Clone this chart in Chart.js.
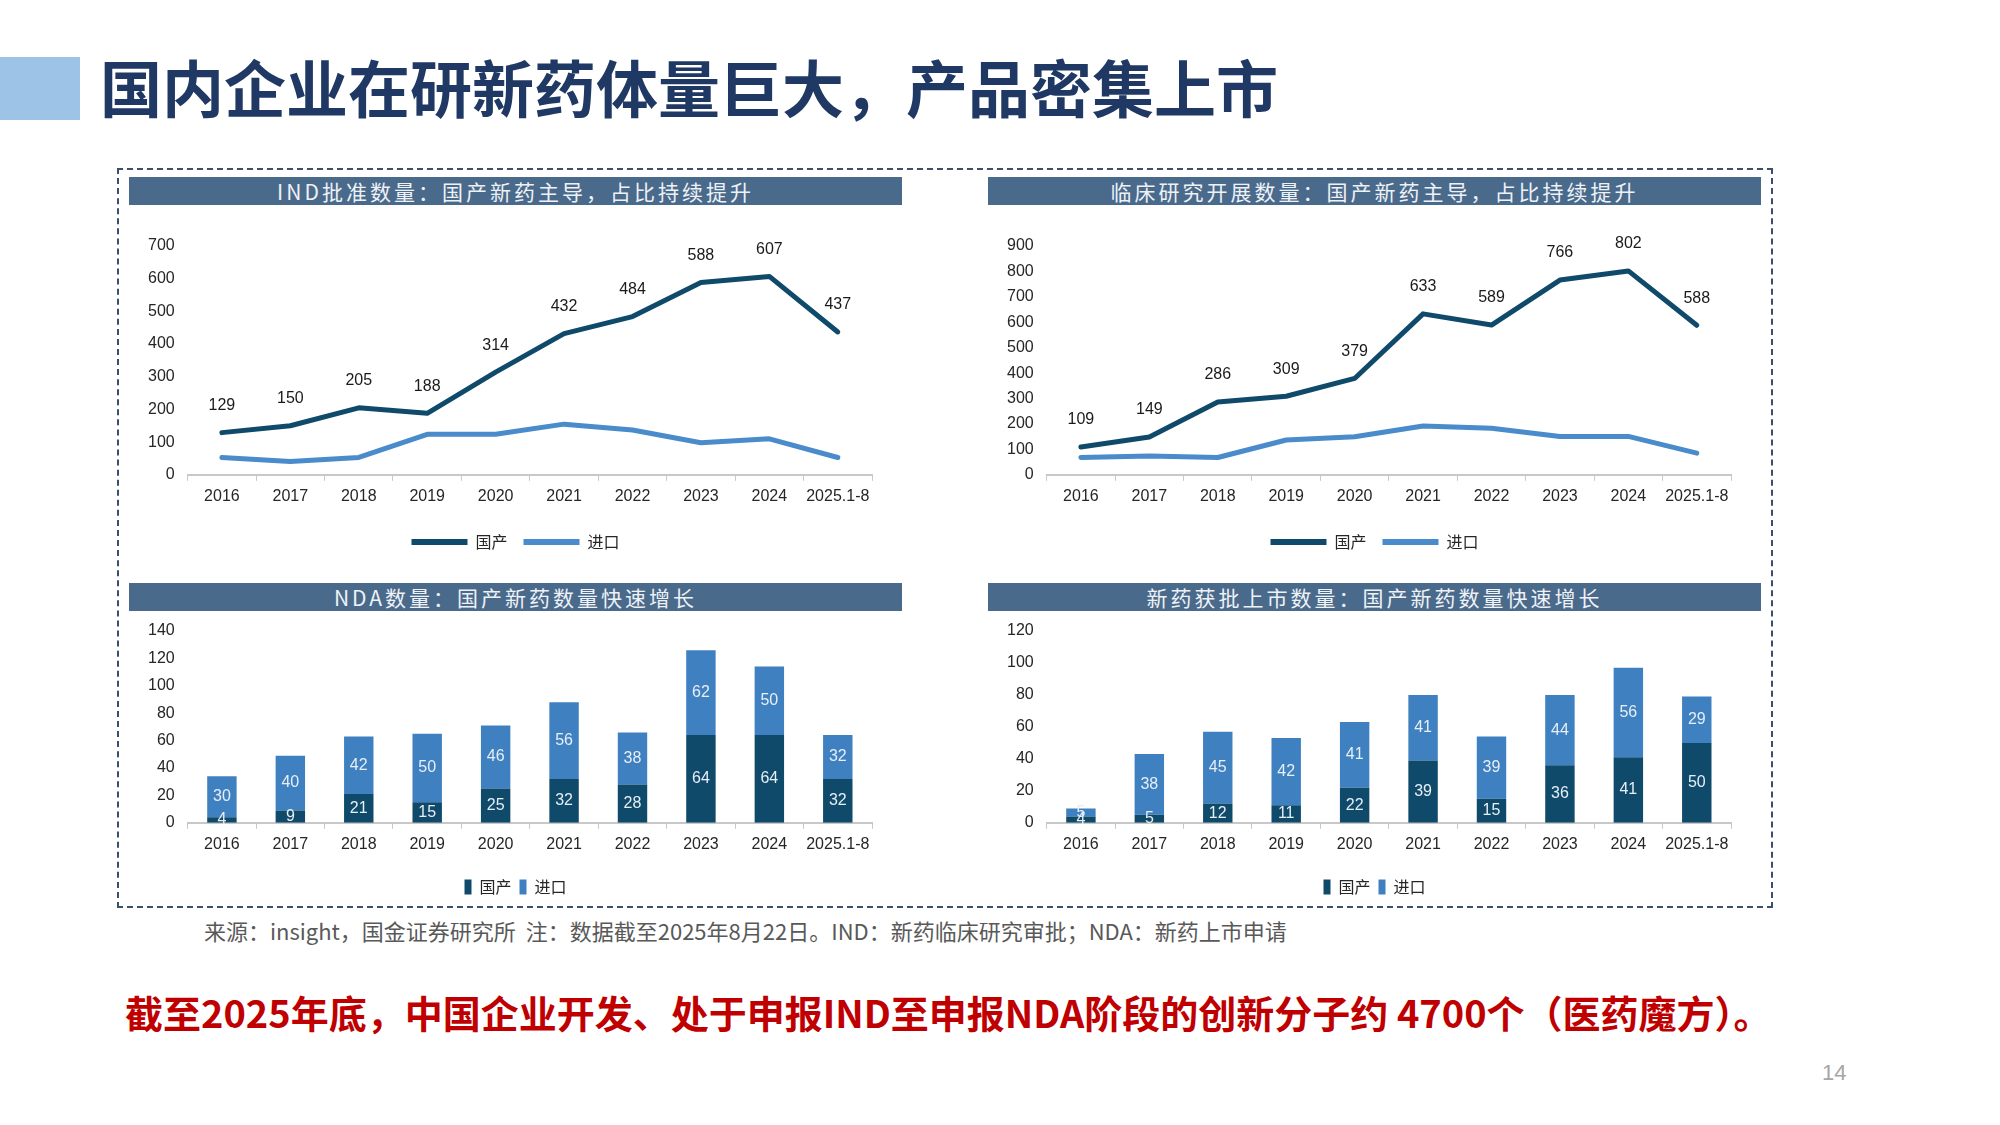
<!DOCTYPE html>
<html>
<head>
<meta charset="utf-8">
<script src="https://cdn.jsdelivr.net/npm/chart.js@4.4.1/dist/chart.umd.min.js"></script>
<style>
  body { margin: 0; width: 2000px; height: 1125px; background: #fff; position: relative; overflow: hidden;
         font-family: "Noto Sans CJK SC", sans-serif; }
  .abs { position: absolute; }
  #mark { left: 0; top: 57px; width: 80px; height: 63px; background: #9dc3e6; }
  #title { left: 100px; top: 46px; font-size: 62px; font-weight: bold; color: #1f3864; line-height: 80px; white-space: nowrap; }
  #frame { left: 117px; top: 168px; width: 1652px; height: 736px; border: 2px dashed #3b4e6b; }
  .head { height: 28px; background: #4a6a8c; color: #eef2f6; font-size: 21px; letter-spacing: 3px;
          text-align: center; line-height: 28px; width: 773px; white-space: nowrap; }
  .box { position: absolute; width: 773px; }
  #source { left: 204px; top: 914px; font-size: 22px; color: #595959; white-space: nowrap; }
  #note { left: 125px; top: 984px; font-size: 38px; font-weight: bold; color: #c00000; white-space: nowrap; }
  #page { left: 1822px; top: 1060px; font-size: 22px; color: #a6a6a6; font-family: "Liberation Sans", sans-serif; }
</style>
</head>
<body>
<div class="abs" id="mark"></div>
<div class="abs" id="title">国内企业在研新药体量巨大，产品密集上市</div>
<div class="abs" id="frame"></div>

<div class="abs head" style="left:129px;top:177px;">IND批准数量：国产新药主导，占比持续提升</div>
<div class="abs head" style="left:988px;top:177px;">临床研究开展数量：国产新药主导，占比持续提升</div>
<div class="abs head" style="left:129px;top:583px;">NDA数量：国产新药数量快速增长</div>
<div class="abs head" style="left:988px;top:583px;">新药获批上市数量：国产新药数量快速增长</div>

<div class="box" style="left:129px;top:215px;height:355px;"><canvas id="indChart"></canvas></div>
<div class="box" style="left:988px;top:215px;height:355px;"><canvas id="trialChart"></canvas></div>
<div class="box" style="left:129px;top:610px;height:301px;"><canvas id="ndaChart"></canvas></div>
<div class="box" style="left:988px;top:610px;height:301px;"><canvas id="approvalChart"></canvas></div>

<div class="abs" id="source">来源：insight，国金证券研究所&nbsp;&nbsp;注：数据截至2025年8月22日。IND：新药临床研究审批；NDA：新药上市申请</div>
<div class="abs" id="note">截至2025年底，中国企业开发、处于申报IND至申报NDA阶段的创新分子约 4700个（医药魔方）。</div>
<div class="abs" id="page">14</div>

<script>
const years = ['2016', '2017', '2018', '2019', '2020', '2021', '2022', '2023', '2024', '2025.1-8'];
const seriesNames = ['国产', '进口'];

const indDomestic = [129, 150, 205, 188, 314, 432, 484, 588, 607, 437];
const indImport = [53, 41, 53, 124, 124, 155, 137, 98, 110, 53];

const trialDomestic = [109, 149, 286, 309, 379, 633, 589, 766, 802, 588];
const trialImport = [68, 74, 68, 137, 150, 192, 183, 151, 151, 85];

const ndaDomestic = [4, 9, 21, 15, 25, 32, 28, 64, 64, 32];
const ndaImport = [30, 40, 42, 50, 46, 56, 38, 62, 50, 32];

const approvalDomestic = [4, 5, 12, 11, 22, 39, 15, 36, 41, 50];
const approvalImport = [5, 38, 45, 42, 41, 41, 39, 44, 56, 29];

const darkBlue = '#0f4a6b';
const lineBlue = '#4a8bcb';
const barBlue = '#3f80c0';
const numFont = '"Liberation Sans", Arial, sans-serif';
const cjkFont = '"Noto Sans CJK SC", sans-serif';

Chart.defaults.font.family = numFont;
Chart.defaults.color = '#262626';

// legend boxes without outline
function flatLegend(chart) {
  const items = Chart.defaults.plugins.legend.labels.generateLabels(chart);
  items.forEach(it => { it.lineWidth = 0; });
  return items;
}

// numbers on the chart (above domestic line, inside bar segments)
const valueLabels = {
  id: 'valueLabels',
  afterDatasetsDraw(chart) {
    const ctx = chart.ctx;
    const isLine = chart.config.type === 'line';
    ctx.save();
    ctx.font = '16px ' + numFont;
    ctx.textAlign = 'center';
    ctx.textBaseline = 'middle';
    chart.data.datasets.forEach((ds, i) => {
      if (isLine && i > 0) return;
      const meta = chart.getDatasetMeta(i);
      meta.data.forEach((el, j) => {
        if (isLine) {
          ctx.fillStyle = '#1a1a1a';
          ctx.fillText(ds.data[j], el.x, el.y - 27);
        } else {
          ctx.fillStyle = '#e6eef6';
          ctx.fillText(ds.data[j], el.x, (el.y + el.base) / 2);
        }
      });
    });
    ctx.restore();
  }
};

// right padding pushes the legend left; move it back to the middle of the canvas
const centerLegend = {
  id: 'centerLegend',
  afterLayout(chart) {
    if (chart.legend) {
      chart.legend.left += 8;
      chart.legend.right += 8;
    }
  }
};

// extra: added space under the category labels, before the legend
function xAxis(extra) {
  return {
    offset: true,
    grid: { display: true, drawOnChartArea: false, offset: true, color: '#c8c8c8', tickLength: 6 },
    border: { color: '#c8c8c8', width: 2 },
    ticks: { color: '#262626', font: { size: 16 }, padding: 6, maxRotation: 0, autoSkip: false },
    afterFit(scale) { scale.height += extra; }
  };
}

function yAxis(max, step, stacked) {
  return {
    min: 0, max: max, stacked: stacked,
    grid: { display: false },
    border: { display: false },
    ticks: { stepSize: step, color: '#262626', font: { size: 16 }, padding: 5 }
  };
}

function lineChart(id, domestic, imported, max, step) {
  new Chart(document.getElementById(id), {
    type: 'line',
    data: {
      labels: years,
      datasets: [
        { label: seriesNames[0], data: domestic, borderColor: darkBlue, backgroundColor: darkBlue,
          borderWidth: 5, pointRadius: 0, tension: 0, borderJoinStyle: 'round', borderCapStyle: 'round' },
        { label: seriesNames[1], data: imported, borderColor: lineBlue, backgroundColor: lineBlue,
          borderWidth: 5, pointRadius: 0, tension: 0, borderJoinStyle: 'round', borderCapStyle: 'round' }
      ]
    },
    options: {
      responsive: true,
      maintainAspectRatio: false,
      animation: false,
      layout: { padding: { left: 14, right: 30, top: 31, bottom: 10 } },
      plugins: {
        legend: {
          position: 'bottom',
          labels: { boxWidth: 56, boxHeight: 6, padding: 16, color: '#262626',
                    font: { size: 16, family: cjkFont }, generateLabels: flatLegend }
        },
        tooltip: { enabled: false }
      },
      scales: { x: xAxis(6), y: yAxis(max, step, false) }
    },
    plugins: [valueLabels, centerLegend]
  });
}

function barChart(id, domestic, imported, max, step) {
  new Chart(document.getElementById(id), {
    type: 'bar',
    data: {
      labels: years,
      datasets: [
        { label: seriesNames[0], data: domestic, backgroundColor: darkBlue, barPercentage: 0.43, categoryPercentage: 1 },
        { label: seriesNames[1], data: imported, backgroundColor: barBlue, barPercentage: 0.43, categoryPercentage: 1 }
      ]
    },
    options: {
      responsive: true,
      maintainAspectRatio: false,
      animation: false,
      layout: { padding: { left: 14, right: 30, top: 21, bottom: 6 } },
      plugins: {
        legend: {
          position: 'bottom',
          labels: { boxWidth: 7, boxHeight: 15, padding: 8, color: '#262626',
                    font: { size: 16, family: cjkFont }, generateLabels: flatLegend }
        },
        tooltip: { enabled: false }
      },
      scales: { x: Object.assign(xAxis(11), { stacked: true }), y: yAxis(max, step, true) }
    },
    plugins: [valueLabels, centerLegend]
  });
}

lineChart('indChart', indDomestic, indImport, 700, 100);
lineChart('trialChart', trialDomestic, trialImport, 900, 100);
barChart('ndaChart', ndaDomestic, ndaImport, 140, 20);
barChart('approvalChart', approvalDomestic, approvalImport, 120, 20);
</script>
</body>
</html>
